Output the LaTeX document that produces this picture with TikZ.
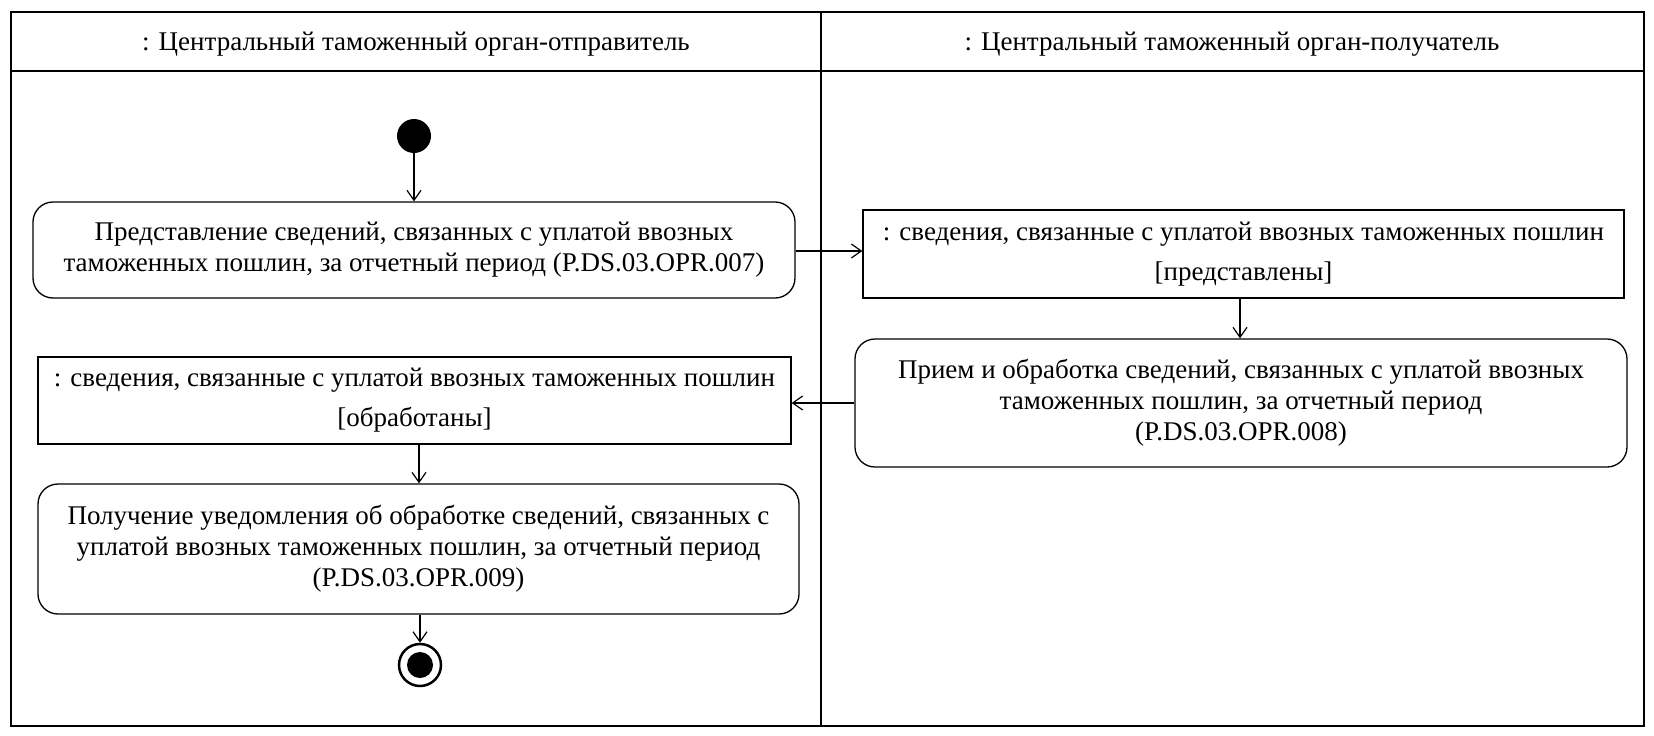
\documentclass[tikz,border=0pt]{standalone}
\usepackage{fontspec}
\setmainfont{Liberation Serif}
\usetikzlibrary{arrows.meta}
\begin{document}
\begin{tikzpicture}[x=1pt,y=-1pt,
  txt/.style={font=\fontsize{27}{31}\selectfont},
  act/.style={draw, line width=1.3pt, rounded corners=20pt, align=center, inner sep=0pt, txt},
  obj/.style={draw, line width=1.3pt, align=center, inner sep=0pt, font=\fontsize{27}{40}\selectfont},
  flow/.style={line width=1.2pt, -{Straight Barb[length=10pt,width=14pt]}},
  frame/.style={line width=2pt},
  lanehead/.style={txt}
]
\fill[white] (0,0) rectangle (1654,736);
\useasboundingbox (0,0) rectangle (1654,736);
% swimlanes
\draw[frame] (11,12) rectangle (1644,726);
\draw[frame] (11,71) -- (1644,71);
\draw[frame] (821,12) -- (821,726);
\node[lanehead] (h1) at (416,44) {: Центральный таможенный орган-отправитель};
\node[lanehead] (h2) at (1232,44) {: Центральный таможенный орган-получатель};
% nodes
\node[circle, fill, minimum size=34pt, inner sep=0pt] (start) at (414,136) {};
\node[act, minimum width=762pt, minimum height=96pt] (a1) at (414,250)
  {Представление сведений, связанных с уплатой ввозных\\таможенных пошлин, за отчетный период (P.DS.03.OPR.007)};
\node[obj, minimum width=761pt, minimum height=88pt] (o1) at (1243.5,254)
  {: сведения, связанные с уплатой ввозных таможенных пошлин\\{}[представлены]};
\node[act, minimum width=772pt, minimum height=128pt] (a2) at (1241,403)
  {Прием и обработка сведений, связанных с уплатой ввозных\\таможенных пошлин, за отчетный период\\(P.DS.03.OPR.008)};
\node[obj, minimum width=753pt, minimum height=87pt] (o2) at (414.5,400.5)
  {: сведения, связанные с уплатой ввозных таможенных пошлин\\{}[обработаны]};
\node[act, minimum width=761pt, minimum height=130pt] (a3) at (418.5,549)
  {Получение уведомления об обработке сведений, связанных с\\уплатой ввозных таможенных пошлин, за отчетный период\\(P.DS.03.OPR.009)};
\node[circle, draw, line width=2.5pt, minimum size=42pt, inner sep=0pt,
  path picture={\fill (path picture bounding box.center) circle (13pt);}] (end) at (420,665) {};
% flows
\draw[flow] (start) -- (start |- a1.north);
\draw[flow] (a1.east |- 0,251) -- (o1.west |- 0,251);
\draw[flow] (o1.south -| 1240,0) -- (a2.north -| 1240,0);
\draw[flow] (a2.west |- 0,403) -- (o2.east |- 0,403);
\draw[flow] (o2.south -| 419,0) -- (a3.north -| 419,0);
\draw[flow] (a3.south -| end) -- (end);
\end{tikzpicture}
\end{document}
